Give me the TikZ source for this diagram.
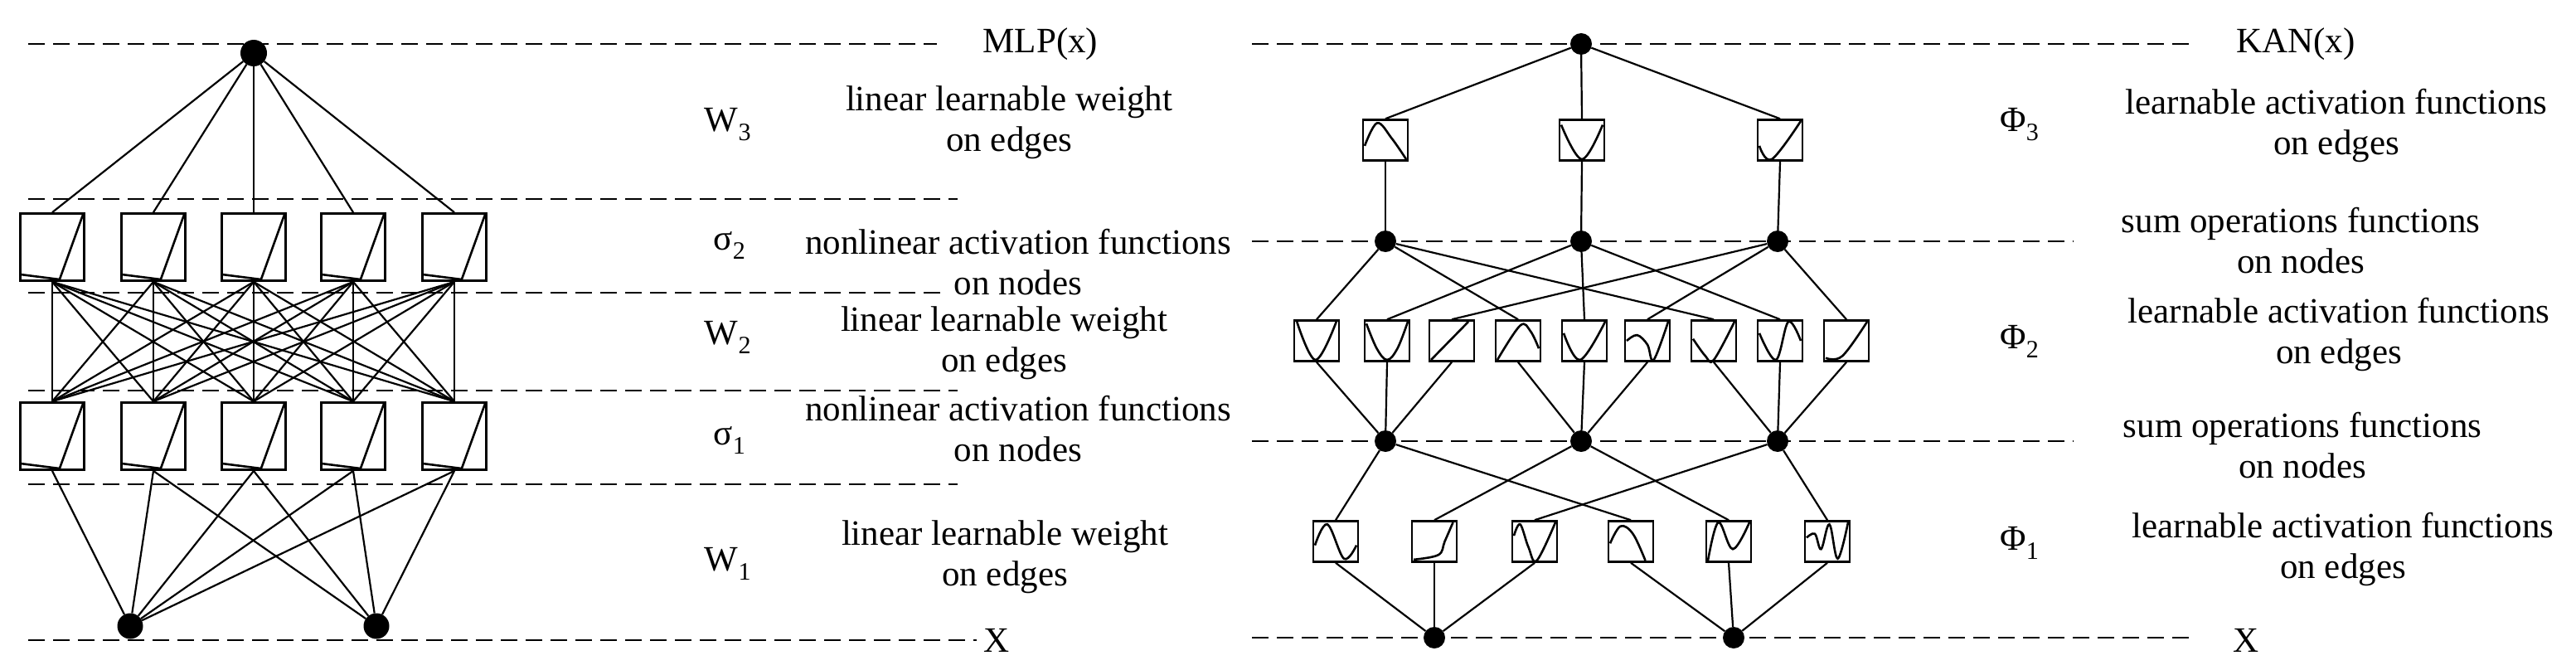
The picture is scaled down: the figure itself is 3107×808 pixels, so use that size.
\documentclass[tikz,border=0pt]{standalone}
\usepackage{fontspec}
\setmainfont{Liberation Serif}
\begin{document}
\begin{tikzpicture}[x=1pt,y=-1pt,
  dline/.style={line width=2.6pt,dash pattern=on 20pt off 10pt},
  edge/.style={line width=2.2pt},
  dot/.style={circle,fill=black,inner sep=0pt,minimum size=#1},
  lbox/.style={draw,line width=2.8pt,minimum width=77pt,minimum height=81pt,inner sep=0pt},
  kbox/.style={draw,line width=2.6pt,minimum width=54pt,minimum height=49pt,inner sep=0pt},
  curve/.style={line width=2.6pt},
  lab/.style={font=\fontsize{43}{49}\selectfont,align=center,inner sep=0pt}]
\useasboundingbox (0,0) rectangle (3107,808);
\newcommand\kfun[4]{% name, x, y, coords
  \node[kbox] (#1) at (#2,#3) {};
  \begin{scope}[shift={(#2,#3)},x=25pt,y=23pt]
    \draw[curve] plot[smooth,tension=0.6] coordinates {#4};
  \end{scope}}
\newcommand\lfun[3]{%
  \node[lbox] (#1) at (#2,#3) {};
  \begin{scope}[shift={(#2,#3)},x=37pt,y=39pt]
    \draw[curve] (-1,-0.85) -- (0.24,-1) -- (1,1);
  \end{scope}}
% ---------- left dashed lines
\draw[dline] (34,53) -- (1130,53);
\draw[dline] (34,240) -- (1155,240);
\draw[dline] (34,353) -- (1140,353);
\draw[dline] (34,471) -- (1155,471);
\draw[dline] (34,584) -- (1155,584);
\draw[dline] (34,772) -- (1178,772);
% left nodes
\node[dot=32pt] (top) at (306,64) {};
\node[dot=31pt] (b1) at (157,755) {};
\node[dot=31pt] (b2) at (454,755) {};
\foreach \i/\x in {1/63,2/185,3/306,4/426,5/548}{
  \lfun{s2\i}{\x}{298}
  \lfun{s1\i}{\x}{526}
}
\foreach \i in {1,...,5}{
  \draw[edge] (top) -- (s2\i.north);
  \foreach \j in {1,...,5}{\draw[edge] (s2\i.south) -- (s1\j.north);}
  \draw[edge] (s1\i.south) -- (b1);
}
\foreach \i in {2,...,5}{\draw[edge] (s1\i.south) -- (b2);}
% left labels
\node[lab] (mlp) at (1255,53) {MLP(x)};
\node[lab] (w3) at (878,150) {W\textsubscript{3}};
\node[lab] at (1217,148) {linear learnable weight\\on edges};
\node[lab] (sg2) at (880,296) {σ\textsubscript{2}};
\node[lab] at (1228,316) {nonlinear activation functions\\on nodes};
\node[lab] (w2) at (878,407) {W\textsubscript{2}};
\node[lab] at (1211,414) {linear learnable weight\\on edges};
\node[lab] (sg1) at (880,531) {σ\textsubscript{1}};
\node[lab] at (1228,517) {nonlinear activation functions\\on nodes};
\node[lab] (w1) at (878,680) {W\textsubscript{1}};
\node[lab] at (1212,672) {linear learnable weight\\on edges};
\node[lab] (xl) at (1202,772) {X};
% ---------- right dashed lines
\draw[dline] (1510,53) -- (2646,53);
\draw[dline] (1510,291) -- (2501,291);
\draw[dline] (1510,532) -- (2501,532);
\draw[dline] (1510,769) -- (2646,769);
% right nodes
\node[dot=26pt] (K) at (1907,53) {};
\foreach \i/\x in {1/1671,2/1907,3/2144}{
  \node[dot=26pt] (A\i) at (\x,291) {};
  \node[dot=26pt] (C\i) at (\x,532) {};
}
\node[dot=26pt] (N1) at (1730,769) {};
\node[dot=26pt] (N2) at (2091,769) {};
% top boxes
\kfun{T1}{1671}{169}{(-1,-0.3) (-0.4,0.9) (0.3,0.1) (1,-1)}
\kfun{T2}{1908}{169}{(-1,0.8) (0,-1) (1,0.8)}
\kfun{T3}{2147}{169}{(-1,-0.3) (-0.4,-1) (1,1)}
% middle boxes
\kfun{M1}{1588}{411}{(-0.95,1) (-0.05,-1) (0.95,1)}
\kfun{M2}{1673}{411}{(-1,0.9) (-0.5,-0.4) (0,-1) (0.5,-0.4) (1,1)}
\kfun{M3}{1751}{411}{(-1,-1) (0.8,1)}
\kfun{M4}{1831}{411}{(-1,-1) (0.1,0.8) (0.6,0.5) (1,-0.4)}
\kfun{M5}{1911}{411}{(-1,0.4) (-0.2,-1) (1,1)}
\kfun{M6}{1987}{411}{(-1,0) (-0.5,0.3) (0,-0.2) (0.3,-1) (1,1)}
\kfun{M7}{2067}{411}{(-1,0.1) (-0.4,-0.8) (0,-1) (1,1)}
\kfun{M8}{2147}{411}{(-1,0.4) (-0.2,-1) (0.4,1) (1,0)}
\kfun{M9}{2227}{411}{(-1,-0.9) (-0.2,-0.8) (1,1)}
% bottom boxes
\kfun{B1}{1611}{653}{(-1,-0.2) (-0.4,0.9) (0.4,-0.9) (1,-0.2)}
\kfun{B2}{1730}{653}{(-1,-0.95) (0.2,-0.7) (0.5,0) (0.9,1)}
\kfun{B3}{1851}{653}{(-1,0.3) (-0.7,0.9) (-0.3,-0.3) (0.1,-1) (1,1)}
\kfun{B4}{1967}{653}{(-1,-0.1) (-0.5,0.8) (0.1,0.4) (0.7,-1)}
\kfun{B5}{2085}{653}{(-1,-1) (-0.5,1) (0.2,-0.4) (1,1)}
\kfun{B6}{2204}{653}{(-1,0.2) (-0.6,0.4) (-0.3,-0.4) (0.1,0.9) (0.5,-0.9) (1,1)}
% right edges
\foreach \i in {1,2,3}{\draw[edge] (K) -- (T\i.north); \draw[edge] (T\i.south) -- (A\i);}
\foreach \a/\m in {1/1,1/4,1/7,2/2,2/5,2/8,3/3,3/6,3/9}{\draw[edge] (A\a) -- (M\m.north);}
\foreach \m/\c in {1/1,2/1,3/1,4/2,5/2,6/2,7/3,8/3,9/3}{\draw[edge] (M\m.south) -- (C\c);}
\foreach \c/\b in {1/1,1/4,2/2,2/5,3/3,3/6}{\draw[edge] (C\c) -- (B\b.north);}
\foreach \b in {1,2,3}{\draw[edge] (B\b.south) -- (N1);}
\foreach \b in {4,5,6}{\draw[edge] (B\b.south) -- (N2);}
% right labels
\node[lab] (kan) at (2769,53) {KAN(x)};
\node[lab] (p3) at (2436,150) {Φ\textsubscript{3}};
\node[lab] at (2818,152) {learnable activation functions\\on edges};
\node[lab] at (2775,290) {sum operations functions\\on nodes};
\node[lab] (p2) at (2436,412) {Φ\textsubscript{2}};
\node[lab] at (2821,403) {learnable activation functions\\on edges};
\node[lab] at (2777,537) {sum operations functions\\on nodes};
\node[lab] (p1) at (2436,655) {Φ\textsubscript{1}};
\node[lab] at (2826,662) {learnable activation functions\\on edges};
\node[lab] (xr) at (2709,772) {X};
\end{tikzpicture}
\end{document}
